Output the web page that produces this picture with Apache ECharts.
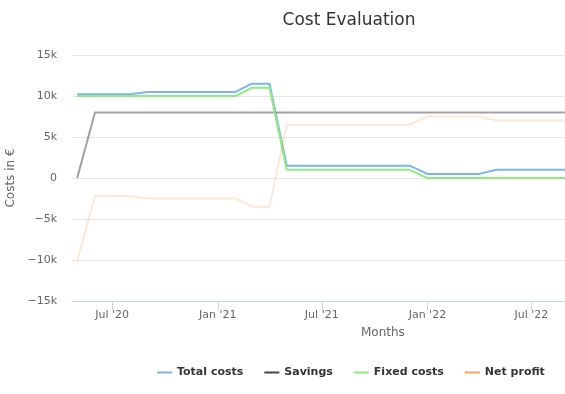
<!DOCTYPE html>
<html>
<head>
<meta charset="utf-8">
<script src="https://cdn.jsdelivr.net/npm/echarts@6/dist/echarts.min.js"></script>
<style>
html,body{margin:0;padding:0;background:#fff;}
#chart{width:565px;height:394px;}
</style>
</head>
<body>
<div id="chart"></div>
<script>
// ---- data ----
const months = [
  '2020-05-01','2020-06-01','2020-07-01','2020-08-01','2020-09-01','2020-10-01','2020-11-01','2020-12-01',
  '2021-01-01','2021-02-01','2021-03-01','2021-04-01','2021-05-01','2021-06-01','2021-07-01','2021-08-01',
  '2021-09-01','2021-10-01','2021-11-01','2021-12-01','2022-01-01','2022-02-01','2022-03-01','2022-04-01',
  '2022-05-01','2022-06-01','2022-07-01','2022-08-01','2022-09-01'
];
const totalCosts = [
  10200,10200,10200,10200,10500,10500,10500,10500,
  10500,10500,11500,11500,1500,1500,1500,1500,
  1500,1500,1500,1500,500,500,500,500,
  1000,1000,1000,1000,1000
];
const savings = [
  0,8000,8000,8000,8000,8000,8000,8000,
  8000,8000,8000,8000,8000,8000,8000,8000,
  8000,8000,8000,8000,8000,8000,8000,8000,
  8000,8000,8000,8000,8000
];
const fixedCosts = [
  10000,10000,10000,10000,10000,10000,10000,10000,
  10000,10000,11000,11000,1000,1000,1000,1000,
  1000,1000,1000,1000,0,0,0,0,
  0,0,0,0,0
];
const netProfit = [
  -10200,-2200,-2200,-2200,-2500,-2500,-2500,-2500,
  -2500,-2500,-3500,-3500,6500,6500,6500,6500,
  6500,6500,6500,6500,7500,7500,7500,7500,
  7000,7000,7000,7000,7000
];
const tickDates = ['2020-07-01','2021-01-01','2021-07-01','2022-01-01','2022-07-01'];
const tickLabels = ["Jul '20","Jan '21","Jul '21","Jan '22","Jul '22"];
const seriesNames = ['Total costs','Savings','Fixed costs','Net profit'];

// ---- helpers ----
function toTs(s){ const p = s.split(/[- :]/).map(Number); return Date.UTC(p[0], p[1]-1, p[2], p[3]||0); }
const xTimes = months.map(toTs);
const tickTimes = tickDates.map(toTs);
function pairs(vals){ return vals.map((v,i)=>[xTimes[i], v]); }

const font = 'DejaVu Sans';
const chart = echarts.init(document.getElementById('chart'), null, {renderer:'canvas'});
chart.setOption({
  animation: false,
  backgroundColor: '#ffffff',
  title: {
    text: 'Cost Evaluation',
    left: 349, top: 12, textAlign: 'center', padding: 0,
    textStyle: {fontFamily: font, fontSize: 17, fontWeight: 'normal', color: '#333333'}
  },
  legend: {
    data: seriesNames,
    left: 157, top: 367,
    itemWidth: 15, itemHeight: 2, itemGap: 21,
    icon: 'rect',
    padding: 0,
    textStyle: {fontFamily: font, fontSize: 11, fontWeight: 'bold', color: '#333333'}
  },
  grid: {left: 72, right: 0, top: 55, bottom: 93, containLabel: false, outerBoundsMode: 'none'},
  xAxis: {
    type: 'value',
    min: toTs('2020-04-22'),
    max: toTs('2022-08-28 16'),
    axisLine: {show: true, onZero: false, lineStyle: {color: '#ccd6eb', width: 1}},
    axisTick: {show: true, length: 9, lineStyle: {color: '#ccd6eb'}, customValues: tickTimes},
    axisLabel: {
      customValues: tickTimes,
      margin: 9,
      fontFamily: font, fontSize: 11, color: '#666666',
      formatter: function(v){
        let best = 0, d = Infinity;
        tickTimes.forEach((t,i)=>{ const dd = Math.abs(t - v); if (dd < d){ d = dd; best = i; } });
        return tickLabels[best];
      }
    },
    splitLine: {show: false}
  },
  yAxis: {
    type: 'value',
    min: -15000, max: 15000, interval: 5000,
    name: 'Costs in €',
    nameLocation: 'middle',
    nameGap: 49,
    nameRotate: 90,
    nameTextStyle: {fontFamily: font, fontSize: 12, color: '#666666'},
    axisLine: {show: false},
    axisTick: {show: false},
    axisLabel: {
      margin: 15,
      fontFamily: font, fontSize: 11, color: '#666666',
      formatter: function(v){
        if (v === 0) return '0';
        return (v < 0 ? '\u2212' : '') + (Math.abs(v)/1000) + 'k';
      }
    },
    splitLine: {show: true, lineStyle: {color: '#e6e6e6', width: 1}}
  },
  graphic: [{
    type: 'text',
    left: 383 - 22, top: 327,
    style: {text: 'Months', fontFamily: font, fontSize: 12, fill: '#666666'}
  }],
  series: [
    {name: seriesNames[0], type: 'line', data: pairs(totalCosts), showSymbol: false, color: '#7cb5ec',
      lineStyle: {width: 2, color: '#7cb5ec'}},
    {name: seriesNames[1], type: 'line', data: pairs(savings), showSymbol: false, color: '#434348',
      lineStyle: {width: 2, color: 'rgba(67,67,72,0.5)'}},
    {name: seriesNames[2], type: 'line', data: pairs(fixedCosts), showSymbol: false, color: '#90ed7d',
      lineStyle: {width: 2, color: '#90ed7d'}},
    {name: seriesNames[3], type: 'line', data: pairs(netProfit), showSymbol: false, color: '#f7a35c',
      lineStyle: {width: 2, color: 'rgba(247,163,92,0.25)'}}
  ]
});
</script>
</body>
</html>
